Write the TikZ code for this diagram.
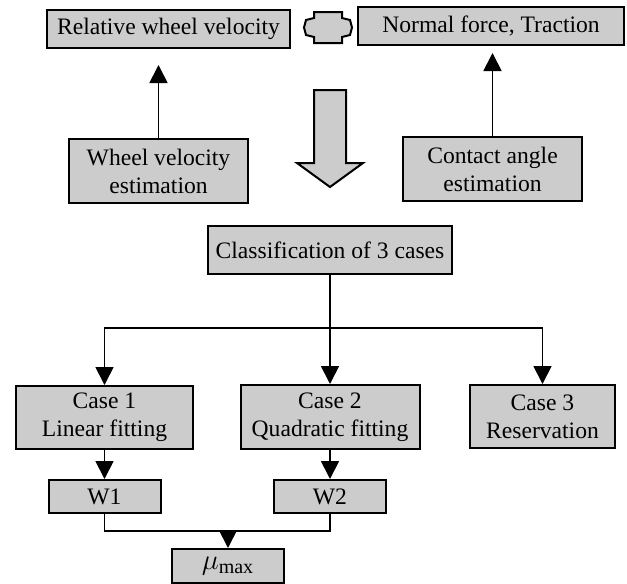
\documentclass[tikz,border=0pt]{standalone}
\usepackage{fontspec}
\setmainfont{Liberation Serif}
\usepackage{tikz}
\usetikzlibrary{positioning,calc,arrows.meta}
\tikzstyle{blk}= [draw, line width=1pt, fill=black!20, inner sep=1pt, align=center, font=\rmfamily\fontsize{11.8}{14}\selectfont]
\tikzstyle{arr}= [line width=0.9pt, -{Triangle[width=9pt,length=9pt]}]
\tikzstyle{ln}= [line width=0.9pt]

\begin{document}
\begin{tikzpicture}[x=0.5pt,y=-0.5pt]
						\useasboundingbox (0,0) rectangle (627,584);
						\node[blk, minimum width=121.5pt, minimum height=19pt] (rel) at (168.5,29) {Relative wheel velocity};
						\node[blk, minimum width=133pt, minimum height=19pt] (nrm) at (491,26) {Normal force, Traction};
						\node[blk, minimum width=89.5pt, minimum height=32pt] (wve) at (158.5,171) {Wheel velocity\\estimation};
						\node[blk, minimum width=89.5pt, minimum height=32pt] (cae) at (492.5,169) {Contact angle\\estimation};
						\node[blk, minimum width=122pt, minimum height=24pt] (cls) at (330,250) {Classification of 3 cases};
						\node[blk, minimum width=88.5pt, minimum height=31.5pt] (c1) at (104.5,417.5) {Case 1\\Linear fitting};
						\node[blk, minimum width=89.5pt, minimum height=32pt] (c2) at (330,417) {Case 2\\Quadratic fitting};
						\node[blk, minimum width=72.5pt, minimum height=31.5pt] (c3) at (542.5,416.5) {Case 3\\Reservation};
						\node[blk, minimum width=56pt, minimum height=16.5pt] (w1) at (104.5,496.5) {W1};
						\node[blk, minimum width=56pt, minimum height=16.5pt] (w2) at (330,496.5) {W2};
						\node[blk, minimum width=56pt, minimum height=17pt, inner sep=0pt] (mu) at (228,566) {\Large$\mu_{\mathrm{max}}$};
						\coordinate (rtip) at (158.5,65);
						\coordinate (ntip) at (492.5,53);
						\coordinate (br) at (330,328);
						\coordinate (jn) at (228,531);
						% exchange between the two quantities
						\draw[line width=1pt, fill=black!20] (314,12) -- (342,12) -- (342,18) -- (350,20) -- (352,27.5) -- (350,35) -- (342,37) -- (342,43) -- (314,43) -- (314,37) -- (306,35) -- (304,27.5) -- (306,20) -- (314,18) -- cycle;
						% big arrow down
						\draw[line width=1pt, fill=black!20] (314,90) -- (346,90) -- (346,163) -- (363,163) -- (330,187) -- (297,163) -- (314,163) -- cycle;
						\draw[arr](wve.north) -- (rtip);
						\draw[arr](cae.north) -- (ntip);
						\draw[ln](cls.south) -- (br);
						\draw[arr](br) -| (c1.north);
						\draw[arr](br) -- (c2.north);
						\draw[arr](br) -| (c3.north);
						\draw[arr](c1.south) -- (w1.north);
						\draw[arr](c2.south) -- (w2.north);
						\draw[ln](w1.south) |- (jn) -| (w2.south);
						\draw[arr](jn) -- (mu.north);
					\end{tikzpicture}
\end{document}
